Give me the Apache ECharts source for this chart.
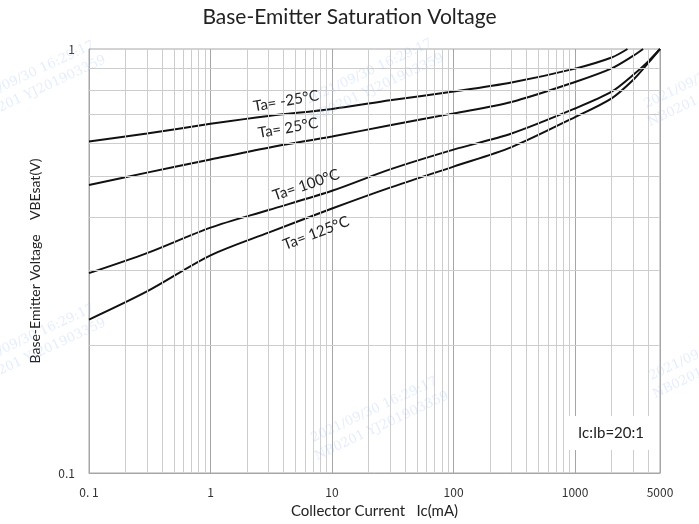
<!DOCTYPE html>
<html><head><meta charset="utf-8">
<script src="https://cdn.jsdelivr.net/npm/echarts@6/dist/echarts.min.js"></script>
<style>html,body{margin:0;padding:0;background:#fff}#c{width:699px;height:524px}</style>
</head><body><div id="c"></div>
<script>
// ---- data ----
const chartTitle = 'Base-Emitter Saturation Voltage';
const xAxisName = 'Collector Current   Ic(mA)';
const yAxisName = 'Base-Emitter Voltage    VBEsat(V)';
const noteText = 'Ic:Ib=20:1';

const xTickValues = [0.1, 1, 10, 100, 1000, 5000];
const xTickLabels = ['0. 1', '1', '10', '100', '1000', '5000'];
const yTickValues = [0.1, 1];
const yTickLabels = ['0.1', '1'];

const seriesNames = ['Ta= -25°C', 'Ta= 25°C', 'Ta= 100°C', 'Ta= 125°C'];

const icM25 = [0.1, 0.3, 1, 3, 10, 30, 100, 300, 1000, 2000, 2700];
const vM25  = [0.605, 0.632, 0.666, 0.695, 0.722, 0.757, 0.794, 0.834, 0.899, 0.955, 1.0];

const ic25 = [0.1, 0.3, 1, 3, 10, 30, 100, 300, 1000, 2000, 3000, 3630];
const v25  = [0.478, 0.511, 0.549, 0.585, 0.622, 0.661, 0.705, 0.750, 0.836, 0.900, 0.963, 1.0];

const ic100 = [0.1, 0.3, 1, 3, 10, 30, 100, 300, 1000, 2000, 3000, 4000, 5000];
const v100  = [0.296, 0.330, 0.379, 0.417, 0.463, 0.520, 0.579, 0.632, 0.724, 0.793, 0.868, 0.935, 1.0];

const ic125 = [0.1, 0.3, 1, 3, 10, 30, 100, 300, 1000, 2000, 3000, 4000, 5000];
const v125  = [0.230, 0.268, 0.326, 0.369, 0.4205, 0.471, 0.528, 0.587, 0.691, 0.765, 0.845, 0.927, 1.0];

// label anchors (data coordinates) and text angles
const labelIc = [4.18, 4.34, 6.11, 7.39];
const labelV  = [0.754, 0.651, 0.478, 0.368];
const labelAngle = [10, 10, 19, 21];

// grid lines
const xMinor = [];
[0.1, 1, 10, 100].forEach(d => { for (let k = 2; k <= 9; k++) xMinor.push(+(d * k).toPrecision(3)); });
[2000, 3000, 4000].forEach(v => xMinor.push(v));
const yMinor = [0.2, 0.3, 0.4, 0.5, 0.6, 0.7, 0.8, 0.9];

// ---- chart ----
const zip = (a, b) => a.map((v, i) => [v, b[i]]);
const curves = [zip(icM25, vM25), zip(ic25, v25), zip(ic100, v100), zip(ic125, v125)];
const FONT = 'Lato';

const chart = echarts.init(document.getElementById('c'));

const gridLineData = xMinor.map(v => ({ xAxis: v }))
  .concat(yMinor.map(v => ({ yAxis: v })));

const option = {
  backgroundColor: '#fff',
  animation: false,
  title: {
    text: chartTitle, left: 'center', top: 2,
    textStyle: { fontFamily: FONT, fontSize: 21, fontWeight: 'normal', color: '#222' }
  },
  grid: { left: 89, right: 39, top: 49, bottom: 51, show: true, borderColor: '#a6a6a6', borderWidth: 1 },
  xAxis: {
    type: 'log', logBase: 10, min: 0.1, max: 5000,
    name: xAxisName, nameLocation: 'middle', nameGap: 31,
    nameTextStyle: { fontFamily: FONT, fontSize: 15, color: '#222' },
    axisLine: { show: true, lineStyle: { color: '#a6a6a6' } },
    axisTick: { show: false },
    axisLabel: {
      show: true, margin: 13, fontFamily: 'Noto Sans CJK SC', fontSize: 12, color: '#333',
      showMinLabel: true, showMaxLabel: true,
      customValues: xTickValues,
      formatter: v => { const i = xTickValues.findIndex(t => Math.abs(t - v) / t < 1e-6); return i >= 0 ? xTickLabels[i] : ''; }
    },
    splitLine: { show: true, lineStyle: { color: '#a6a6a6', width: 1 } }
  },
  yAxis: {
    type: 'log', logBase: 10, min: 0.1, max: 1,
    name: yAxisName, nameLocation: 'middle', nameGap: 47,
    nameTextStyle: { fontFamily: FONT, fontSize: 14, color: '#222' },
    axisLine: { show: true, lineStyle: { color: '#a6a6a6' } },
    axisTick: { show: false },
    axisLabel: {
      margin: 14, fontFamily: 'Noto Sans CJK SC', fontSize: 12, color: '#333',
      formatter: v => { const i = yTickValues.findIndex(t => Math.abs(t - v) / t < 1e-6); return i >= 0 ? yTickLabels[i] : ''; }
    },
    splitLine: { show: false }
  },
  series: [
    {
      type: 'line', name: 'grid', data: [[0.1, 0.1]], symbol: 'none', silent: true, z: 1,
      lineStyle: { opacity: 0 },
      markLine: {
        silent: true, symbol: ['none', 'none'], animation: false,
        label: { show: false },
        lineStyle: { color: '#cdcdcd', width: 1, type: 'solid' },
        emphasis: { disabled: true },
        data: gridLineData
      }
    }
  ].concat(curves.map((d, i) => ({
    type: 'line', name: seriesNames[i], data: d, symbol: 'none', z: 3,
    smooth: 0.3,
    lineStyle: { color: '#111', width: 2 }
  })))
};
chart.setOption(option);

const graphics = [];
// curve labels
seriesNames.forEach((t, i) => {
  const p = chart.convertToPixel({ gridIndex: 0 }, [labelIc[i], labelV[i]]);
  graphics.push({
    type: 'text', x: p[0], y: p[1], rotation: labelAngle[i] * Math.PI / 180, z: 10,
    style: { text: t, fontFamily: FONT, fontSize: 15, fill: '#222', align: 'center', verticalAlign: 'middle' }
  });
});
// watermark tiles
const wmText = '2021/09/30 16:29:17\nNB0201 YJ201903359';
[[35, 82], [373, 80], [711, 84], [35, 345], [378, 418], [716, 356]].forEach(c => {
  graphics.push({
    type: 'text', x: c[0], y: c[1], rotation: 25 * Math.PI / 180, z: 50, silent: true,
    style: { text: wmText, fontFamily: 'DejaVu Serif', fontSize: 13, lineHeight: 18, fill: 'rgba(150,185,245,0.25)', align: 'center', verticalAlign: 'middle' }
  });
});
// note box
graphics.push({
  type: 'group', right: 43, bottom: 74, z: 60,
  children: [
    { type: 'rect', z: 60, shape: { x: 0, y: 0, width: 90, height: 34 }, style: { fill: '#fff' } },
    { type: 'text', z: 61, x: 45, y: 17, style: { text: noteText, fontFamily: FONT, fontSize: 15, fill: '#222', align: 'center', verticalAlign: 'middle' } }
  ]
});
chart.setOption({ graphic: graphics });
</script>
</body></html>
